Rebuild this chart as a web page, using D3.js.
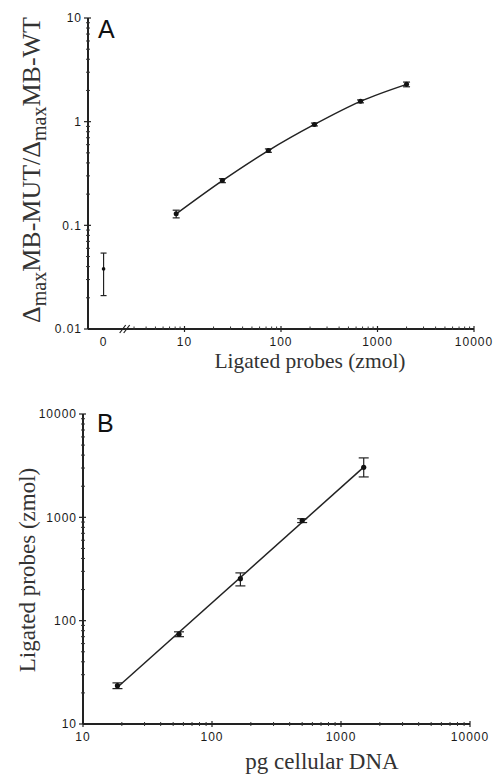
<!DOCTYPE html>
<html>
<head>
<meta charset="utf-8">
<script src="https://cdn.jsdelivr.net/npm/d3@7"></script>
<style>
body { margin: 0; background: #fff; }
</style>
</head>
<body>
<script>
// panel A data
var probesA = [8.2, 24.7, 74, 222, 667, 2000];
var ratioA = [0.129, 0.27, 0.526, 0.94, 1.57, 2.29];
var errA = [0.011, 0.012, 0.02, 0.03, 0.05, 0.12];
var zeroRatio = 0.038, zeroLo = 0.021, zeroHi = 0.054;
var ticksAy = [0.01, 0.1, 1, 10];
var ticksAyLabels = ["0.01", "0.1", "1", "10"];
var ticksAx = [10, 100, 1000, 10000];

// panel B data
var dnaB = [18.5, 55.5, 166, 500, 1500];
var probesB = [23.5, 74, 255, 930, 3050];
var errBlo = [1.5, 4, 38, 40, 590];
var errBhi = [1.5, 4, 35, 40, 710];
var ticksB = [10, 100, 1000, 10000];

var svg = d3.select("body")
    .append("svg")
    .attr("width", 497)
    .attr("height", 775)
    .style("display", "block");

var sans = "Liberation Sans, Arial, sans-serif";
var serif = "Liberation Serif, Times New Roman, serif";

function minorTicks(lo, hi) {
    var out = [];
    for (var d = lo; d < hi; d *= 10) {
        for (var k = 2; k <= 9; k++) out.push(d * k);
    }
    return out;
}

function tickLabel(g, x, y, s, anchor) {
    g.append("text")
        .attr("x", x).attr("y", y)
        .attr("dy", "0.36em")
        .attr("text-anchor", anchor)
        .style("font-family", sans)
        .style("font-size", "12px")
        .style("letter-spacing", "1px")
        .style("fill", "#1a1a1a")
        .text(s);
}

// ---------------- panel A ----------------
var xA = d3.scaleLog().domain([1, 10000]).range([88, 474]);
var yA = d3.scaleLog().domain([0.01, 10]).range([329, 18]);
var zeroPos = 1.45, breakPos = 2.4;

var gA = svg.append("g");

gA.append("line")
    .attr("x1", xA(1)).attr("x2", xA(1))
    .attr("y1", yA(10)).attr("y2", yA(0.01))
    .attr("stroke", "#222").attr("stroke-width", 2);
gA.append("line")
    .attr("x1", xA(1)).attr("x2", xA(10000))
    .attr("y1", yA(0.01)).attr("y2", yA(0.01))
    .attr("stroke", "#222").attr("stroke-width", 2);

// y ticks
gA.selectAll(".ymaj").data(ticksAy).enter().append("line")
    .attr("x1", xA(1) - 4).attr("x2", xA(1) + 3)
    .attr("y1", function(d) { return yA(d); })
    .attr("y2", function(d) { return yA(d); })
    .attr("stroke", "#222").attr("stroke-width", 1.2);
gA.selectAll(".ymin").data(minorTicks(0.01, 10)).enter().append("line")
    .attr("x1", xA(1) - 2).attr("x2", xA(1) + 2)
    .attr("y1", function(d) { return yA(d); })
    .attr("y2", function(d) { return yA(d); })
    .attr("stroke", "#333").attr("stroke-width", 1);
ticksAy.forEach(function(d, i) {
    tickLabel(gA, xA(1) - 6, yA(d), ticksAyLabels[i], "end");
});

// x ticks
gA.selectAll(".xmaj").data(ticksAx).enter().append("line")
    .attr("x1", function(d) { return xA(d); })
    .attr("x2", function(d) { return xA(d); })
    .attr("y1", yA(0.01) - 3).attr("y2", yA(0.01) + 3)
    .attr("stroke", "#222").attr("stroke-width", 1.2);
gA.selectAll(".xmin").data(minorTicks(1, 10000).filter(function(d) { return d > breakPos; }))
    .enter().append("line")
    .attr("x1", function(d) { return xA(d); })
    .attr("x2", function(d) { return xA(d); })
    .attr("y1", yA(0.01) - 2.5).attr("y2", yA(0.01) + 1)
    .attr("stroke", "#333").attr("stroke-width", 1);
tickLabel(gA, xA(zeroPos), 342, "0", "middle");
ticksAx.forEach(function(d) {
    tickLabel(gA, xA(d), 342, d3.format("d")(d), "middle");
});

// axis break
[-2, 2].forEach(function(o) {
    gA.append("line")
        .attr("x1", xA(breakPos) + o - 3).attr("x2", xA(breakPos) + o + 3)
        .attr("y1", yA(0.01) + 4).attr("y2", yA(0.01) - 4)
        .attr("stroke", "#222").attr("stroke-width", 1.2);
});

// curve
var lineA = d3.line()
    .x(function(d, i) { return xA(probesA[i]); })
    .y(function(d) { return yA(d); })
    .curve(d3.curveMonotoneX);
gA.append("path")
    .datum(ratioA)
    .attr("d", lineA)
    .attr("fill", "none")
    .attr("stroke", "#222")
    .attr("stroke-width", 1.5);

function errBar(g, x, lo, hi, yScale, cap) {
    g.append("line").attr("x1", x).attr("x2", x)
        .attr("y1", yScale(lo)).attr("y2", yScale(hi))
        .attr("stroke", "#222").attr("stroke-width", 1.2);
    [lo, hi].forEach(function(v) {
        g.append("line").attr("x1", x - cap).attr("x2", x + cap)
            .attr("y1", yScale(v)).attr("y2", yScale(v))
            .attr("stroke", "#222").attr("stroke-width", 1.2);
    });
}

ratioA.forEach(function(d, i) {
    errBar(gA, xA(probesA[i]), d - errA[i], d + errA[i], yA, 3.5);
});
gA.selectAll(".ptA").data(ratioA).enter().append("circle")
    .attr("cx", function(d, i) { return xA(probesA[i]); })
    .attr("cy", function(d) { return yA(d); })
    .attr("r", 2.5)
    .attr("fill", "#111");

errBar(gA, xA(zeroPos), zeroLo, zeroHi, yA, 3);
gA.append("circle")
    .attr("cx", xA(zeroPos)).attr("cy", yA(zeroRatio))
    .attr("r", 1.8).attr("fill", "#111");

gA.append("text")
    .attr("x", 98).attr("y", 38)
    .style("font-family", sans).style("font-size", "25px")
    .style("fill", "#111")
    .text("A");

gA.append("text")
    .attr("x", 310).attr("y", 368)
    .attr("text-anchor", "middle")
    .style("font-family", serif).style("font-size", "21.5px")
    .style("fill", "#333")
    .text("Ligated probes (zmol)");

var yLabA = gA.append("text")
    .attr("transform", "translate(40,170) rotate(-90)")
    .attr("text-anchor", "middle")
    .style("font-family", serif).style("font-size", "26px")
    .style("fill", "#333");
yLabA.append("tspan").text("\u0394");
yLabA.append("tspan").attr("dy", 6).style("font-size", "20px").text("max");
yLabA.append("tspan").attr("dy", -6).text("MB-MUT/\u0394");
yLabA.append("tspan").attr("dy", 6).style("font-size", "20px").text("max");
yLabA.append("tspan").attr("dy", -6).text("MB-WT");

// ---------------- panel B ----------------
var xB = d3.scaleLog().domain([10, 10000]).range([83, 470]);
var yB = d3.scaleLog().domain([10, 10000]).range([724, 414]);

var gB = svg.append("g");

gB.append("line")
    .attr("x1", xB(10)).attr("x2", xB(10))
    .attr("y1", yB(10000)).attr("y2", yB(10))
    .attr("stroke", "#222").attr("stroke-width", 2);
gB.append("line")
    .attr("x1", xB(10)).attr("x2", xB(10000))
    .attr("y1", yB(10)).attr("y2", yB(10))
    .attr("stroke", "#222").attr("stroke-width", 2);

gB.selectAll(".ymaj").data(ticksB).enter().append("line")
    .attr("x1", xB(10) - 4).attr("x2", xB(10) + 3)
    .attr("y1", function(d) { return yB(d); })
    .attr("y2", function(d) { return yB(d); })
    .attr("stroke", "#222").attr("stroke-width", 1.2);
gB.selectAll(".ymin").data(minorTicks(10, 10000)).enter().append("line")
    .attr("x1", xB(10) - 2).attr("x2", xB(10) + 2)
    .attr("y1", function(d) { return yB(d); })
    .attr("y2", function(d) { return yB(d); })
    .attr("stroke", "#333").attr("stroke-width", 1);
gB.selectAll(".xmaj").data(ticksB).enter().append("line")
    .attr("x1", function(d) { return xB(d); })
    .attr("x2", function(d) { return xB(d); })
    .attr("y1", yB(10) - 3).attr("y2", yB(10) + 3)
    .attr("stroke", "#222").attr("stroke-width", 1.2);
gB.selectAll(".xmin").data(minorTicks(10, 10000)).enter().append("line")
    .attr("x1", function(d) { return xB(d); })
    .attr("x2", function(d) { return xB(d); })
    .attr("y1", yB(10) - 2).attr("y2", yB(10) + 2)
    .attr("stroke", "#333").attr("stroke-width", 1);

ticksB.forEach(function(d) {
    tickLabel(gB, xB(10) - 6, yB(d), d3.format("d")(d), "end");
    tickLabel(gB, xB(d), 737, d3.format("d")(d), "middle");
});

// log-log fit line
var lx = dnaB.map(Math.log10), ly = probesB.map(Math.log10);
var mx = d3.mean(lx), my = d3.mean(ly);
var slope = d3.sum(lx, function(v, i) { return (v - mx) * (ly[i] - my); }) /
            d3.sum(lx, function(v) { return (v - mx) * (v - mx); });
var fitB = dnaB.map(function(d) { return Math.pow(10, my + slope * (Math.log10(d) - mx)); });

gB.append("line")
    .attr("x1", xB(dnaB[0])).attr("y1", yB(fitB[0]))
    .attr("x2", xB(dnaB[dnaB.length - 1])).attr("y2", yB(fitB[fitB.length - 1]))
    .attr("stroke", "#222").attr("stroke-width", 1.5);

probesB.forEach(function(d, i) {
    errBar(gB, xB(dnaB[i]), d - errBlo[i], d + errBhi[i], yB, 5);
});
gB.selectAll(".ptB").data(probesB).enter().append("circle")
    .attr("cx", function(d, i) { return xB(dnaB[i]); })
    .attr("cy", function(d) { return yB(d); })
    .attr("r", 2.6)
    .attr("fill", "#111");

gB.append("text")
    .attr("x", 97).attr("y", 432)
    .style("font-family", sans).style("font-size", "25px")
    .style("fill", "#111")
    .text("B");

gB.append("text")
    .attr("x", 322).attr("y", 769)
    .attr("text-anchor", "middle")
    .style("font-family", serif).style("font-size", "23px")
    .style("fill", "#333")
    .text("pg cellular DNA");

gB.append("text")
    .attr("transform", "translate(35,570) rotate(-90)")
    .attr("text-anchor", "middle")
    .style("font-family", serif).style("font-size", "23px")
    .style("fill", "#333")
    .text("Ligated probes (zmol)");
</script>
</body>
</html>
